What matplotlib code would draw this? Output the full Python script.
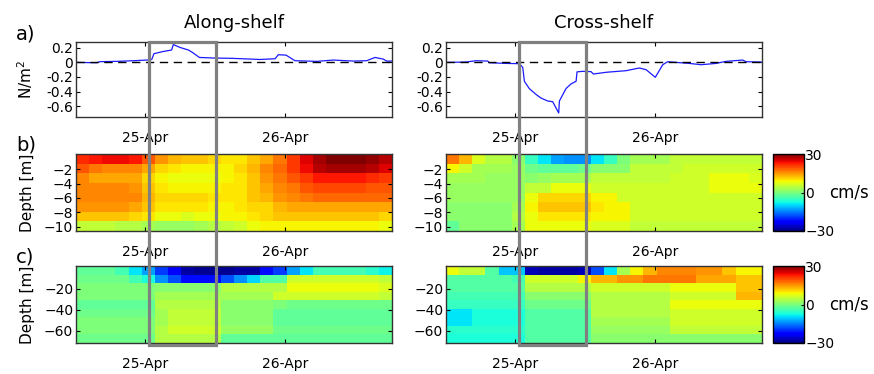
import matplotlib

matplotlib.use("Agg")
import matplotlib.pyplot as plt
import numpy as np
from matplotlib.patches import Rectangle

# wind stress time series (days of April, N/m^2)
along_t = [24.512, 24.655, 24.679, 24.798, 24.917, 25.012, 25.048, 25.064, 25.131, 25.190,
           25.202, 25.250, 25.310, 25.340, 25.388, 25.488, 25.631, 25.821, 25.929, 25.952,
           26.007, 26.071, 26.226, 26.345, 26.488, 26.583, 26.643, 26.702, 26.726, 26.762]
along_tau = [0.0, -0.005, 0.01, 0.014, 0.023, 0.032, 0.04, 0.12, 0.15, 0.17,
             0.245, 0.205, 0.17, 0.135, 0.068, 0.06, 0.055, 0.04, 0.05, 0.105,
             0.10, 0.023, 0.014, 0.032, 0.018, 0.023, 0.068, 0.045, 0.018, 0.018]
cross_t = [24.507, 24.65, 24.721, 24.805, 24.817, 24.936, 25.031, 25.055, 25.067, 25.102,
           25.15, 25.186, 25.233, 25.269, 25.312, 25.317, 25.364, 25.40, 25.436, 25.443,
           25.483, 25.543, 25.56, 25.65, 25.793, 25.888, 25.936, 26.002, 26.055, 26.09,
           26.15, 26.245, 26.329, 26.436, 26.507, 26.626, 26.65, 26.757]
cross_tau = [0.0, 0.005, 0.023, 0.018, -0.005, -0.014, -0.018, -0.068, -0.26, -0.36,
             -0.44, -0.49, -0.53, -0.54, -0.695, -0.53, -0.36, -0.295, -0.26, -0.13,
             -0.123, -0.127, -0.16, -0.136, -0.114, -0.077, -0.1, -0.205, -0.032, 0.009,
             0.0, -0.014, -0.032, -0.014, 0.014, 0.032, 0.009, 0.005]

# velocity sections (cm/s), rows from surface down, 24 time bins
b_along = [
    [22, 23, 24, 24, 23, 19, 15, 13, 12, 12, 11, 10, 10, 12, 14, 17, 21, 25, 28, 30, 30, 30, 29, 27],
    [19, 17, 16, 16, 16, 14, 11, 10, 9, 9, 9, 9, 11, 13, 16, 18, 21, 24, 27, 28, 28, 28, 27, 25],
    [16, 14, 14, 14, 14, 11, 9, 8, 8, 8, 8, 9, 10, 12, 15, 17, 19, 21, 23, 23, 23, 23, 22, 21],
    [16, 16, 16, 16, 15, 12, 10, 9, 9, 9, 9, 10, 10, 12, 14, 16, 17, 19, 20, 20, 20, 20, 19, 19],
    [16, 16, 16, 16, 16, 13, 11, 11, 11, 11, 10, 10, 10, 12, 13, 15, 16, 17, 18, 18, 18, 18, 18, 18],
    [15, 15, 15, 15, 14, 12, 10, 10, 10, 10, 9, 9, 10, 11, 11, 13, 14, 14, 14, 14, 14, 14, 14, 14],
    [12, 12, 12, 12, 11, 10, 8, 8, 7, 8, 8, 9, 9, 10, 11, 12, 12, 12, 12, 12, 12, 12, 12, 11],
    [5, 5, 5, 4, 4, 3, 2, 2, 2, 3, 4, 5, 6, 8, 9, 9, 9, 9, 9, 9, 9, 9, 9, 8],
]
b_cross = [
    [17, 13, 7, 4, 4, 1, -5, -9, -13, -14, -14, -9, -5, 0, 3, 3, 3, 5, 5, 5, 5, 5, 5, 5],
    [9, 6, 3, 3, 3, 2, -1, -2, -2, -2, -1, 1, 1, 1, 5, 5, 5, 5, 6, 6, 6, 6, 6, 6],
    [3, 3, 3, 2, 2, 2, 1, 2, 3, 3, 3, 5, 5, 5, 5, 5, 5, 6, 6, 6, 8, 8, 8, 7],
    [2, 2, 2, 2, 2, 2, 5, 5, 8, 8, 8, 6, 6, 6, 6, 6, 6, 6, 6, 6, 8, 8, 8, 8],
    [2, 2, 2, 2, 2, 2, 8, 11, 11, 11, 11, 9, 9, 6, 6, 6, 6, 6, 6, 6, 6, 6, 6, 6],
    [1, 1, 1, 1, 1, 3, 9, 12, 12, 12, 12, 10, 9, 9, 6, 6, 6, 6, 6, 6, 6, 6, 6, 6],
    [1, 1, 1, 1, 1, 4, 8, 10, 10, 10, 10, 9, 9, 9, 6, 6, 6, 6, 6, 6, 6, 6, 6, 6],
    [-2, 1, 1, 1, 1, 3, 8, 8, 8, 8, 8, 7, 7, 7, 5, 5, 5, 5, 5, 5, 5, 5, 5, 5],
]
c_along = [
    [-2, -2, -2, -4, -9, -13, -19, -23, -28, -29, -29, -29, -28, -28, -22, -19, -13, -9, -4, -4, -4, -4, -6, -8],
    [-1, -1, -1, -1, -4, -7, -14, -18, -22, -22, -22, -18, -14, -10, -3, -3, 6, 6, 6, 6, 6, 6, 6, 5],
    [0, 0, 0, 0, 0, 0, 1, 1, 1, 1, 1, 4, 4, 4, 4, 4, 8, 8, 8, 8, 8, 8, 8, 7],
    [0, 0, 0, 0, 0, 0, 3, 3, 3, 3, 3, 3, 3, 3, 3, 6, 6, 6, 6, 6, 6, 6, 6, 5],
    [-2, -2, -2, -2, -2, -2, 4, 4, 4, 4, 4, 1, 1, 1, 1, 0, -1, -1, -1, -1, -1, -1, -1, -1],
    [-1, -1, -1, -1, -1, -1, 3, 5, 5, 5, 5, 1, 1, 1, 1, -2, -2, -2, -2, -2, -2, -2, -2, -2],
    [0, 0, 0, 0, 0, 0, 3, 5, 5, 5, 5, 1, 1, 1, 1, -2, -2, -2, -2, -2, -2, -2, -2, -2],
    [0, 0, 0, 0, 0, 0, 4, 6, 6, 6, 6, 2, 2, 2, 2, -1, -1, -1, -1, -1, -1, -1, -1, -1],
    [-1, -1, -1, -1, -1, -1, 4, 4, 4, 4, 4, -2, -2, -2, -2, -2, -2, -2, -2, -2, -2, -2, -2, -2],
]
c_cross = [
    [8, 5, 5, -3, -11, -11, -27, -28, -28, -28, -27, -18, -9, 3, 9, 13, 16, 16, 16, 15, 15, 12, 9, 9],
    [-3, -3, -3, -3, -3, -4, 6, 6, 6, 6, 9, 13, 13, 15, 15, 17, 17, 17, 17, 14, 14, 14, 12, 12],
    [-3, -3, -3, -3, -3, -3, 4, 4, 4, 4, 4, 6, 6, 6, 6, 6, 6, 8, 8, 8, 8, 8, 12, 12],
    [-4, -4, -4, -4, -4, -4, 1, 1, 1, 1, 1, 4, 4, 4, 4, 4, 4, 6, 6, 6, 6, 6, 13, 13],
    [-5, -5, -5, -5, -5, -5, -1, -1, -1, -1, -1, 4, 4, 4, 4, 4, 4, 8, 8, 8, 8, 8, 8, 8],
    [-9, -9, -7, -7, -7, -7, -3, -3, -3, -3, -3, 4, 4, 4, 4, 4, 4, 6, 6, 6, 6, 6, 6, 6],
    [-9, -9, -7, -7, -7, -7, -3, -3, -3, -3, -3, 3, 3, 3, 3, 3, 3, 6, 6, 6, 6, 6, 6, 6],
    [-6, -6, -6, -6, -6, -6, -3, -3, -3, -3, -3, 2, 2, 2, 2, 2, 2, 5, 5, 5, 5, 5, 5, 5],
    [-7, -7, -7, -7, -7, -7, -3, -3, -3, -3, -3, 1, 1, 1, 1, 1, 1, 1, 1, 1, 1, 1, 1, 1],
]

day_ticks = [25, 26]
day_labels = ["25-Apr", "26-Apr"]
event = (25.03, 25.51)
T0, T1 = 24.507, 26.764

plt.rcParams["font.family"] = "DejaVu Sans"
fig = plt.figure(figsize=(8.74, 3.74), dpi=100)

W, H = 874, 374


def px_axes(x0, y0, x1, y1):
    return fig.add_axes([x0 / W, 1 - y1 / H, (x1 - x0) / W, (y1 - y0) / H])


def style(ax):
    ax.set_xlim(T0, T1)
    ax.set_xticks(day_ticks)
    ax.set_xticklabels(day_labels)
    ax.tick_params(direction="in", length=3, width=0.8, labelsize=10, top=True, right=True,
                   pad=2)
    ax.tick_params(axis="x", pad=10)
    for s in ax.spines.values():
        s.set_linewidth(1.0)
        s.set_color("#333333")


cols = [(76, 392), (446, 762)]
rows = [(42, 117), (154, 231), (266, 343)]
series = [(along_t, along_tau), (cross_t, cross_tau)]
sections_b = [b_along, b_cross]
sections_c = [c_along, c_cross]

axes = {}
for j, (x0, x1) in enumerate(cols):
    ax = px_axes(x0, rows[0][0], x1, rows[0][1])
    t, tau = series[j]
    ax.plot(t, tau, color="#1a1aff", lw=0.9)
    ax.axhline(0, color="k", ls=(0, (6, 4)), lw=1.0)
    ax.set_ylim(-0.75, 0.28)
    ax.set_yticks([0.2, 0, -0.2, -0.4, -0.6])
    ax.set_yticklabels(["0.2", "0", "-0.2", "-0.4", "-0.6"])
    style(ax)
    axes[(0, j)] = ax

    for r, (data, zlim) in enumerate([(sections_b[j], (-10.6, 0.1)), (sections_c[j], (-72, 2))], start=1):
        arr = np.array(data)
        ax = px_axes(x0, rows[r][0], x1, rows[r][1])
        xe = np.linspace(T0, T1, arr.shape[1] + 1)
        ze = np.linspace(zlim[1], zlim[0], arr.shape[0] + 1)
        im = ax.pcolormesh(xe, ze, arr, cmap="jet", vmin=-30, vmax=30, shading="flat")
        ax.set_ylim(zlim)
        if r == 1:
            ax.set_yticks([-2, -4, -6, -8, -10])
        else:
            ax.set_yticks([-20, -40, -60])
        style(ax)
        axes[(r, j)] = ax
        if j == 1:
            cax = px_axes(773, rows[r][0], 804, rows[r][1])
            cb = fig.colorbar(im, cax=cax, ticks=[-30, 0, 30])
            cb.outline.set_linewidth(1.0)
            cax.tick_params(direction="in", length=2, labelsize=10, pad=1)
            fig.text(849 / W, 1 - (rows[r][0] + rows[r][1]) / 2 / H, "cm/s",
                     ha="center", va="center", fontsize=12)

axes[(0, 0)].set_ylabel("N/m$^2$", fontsize=11)
axes[(1, 0)].set_ylabel("Depth [m]", fontsize=11)
axes[(2, 0)].set_ylabel("Depth [m]", fontsize=11)
for r in range(3):
    axes[(r, 0)].yaxis.set_label_coords(-0.13, 0.5)

axes[(0, 0)].set_title("Along-shelf", fontsize=13, pad=10)
axes[(0, 1)].set_title("Cross-shelf", fontsize=13, pad=10)

for lab, y in zip(["a)", "b)", "c)"], [34, 145, 257]):
    fig.text(16 / W, 1 - y / H, lab, ha="left", va="center", fontsize=14)

# highlighted event box spanning all three rows
for j in range(2):
    top = axes[(0, j)]
    bot = axes[(2, j)]
    to_fig = fig.transFigure.inverted()
    xa = to_fig.transform(top.transData.transform((event[0], 0)))[0]
    xb = to_fig.transform(top.transData.transform((event[1], 0)))[0]
    y_top = top.get_position().y1
    y_bot = bot.get_position().y0 - 2 / H
    fig.patches.append(Rectangle((xa, y_bot), xb - xa, y_top - y_bot, transform=fig.transFigure,
                                 fill=False, edgecolor="#808080", lw=2.3, zorder=10))

fig.savefig("out.png", dpi=100)
